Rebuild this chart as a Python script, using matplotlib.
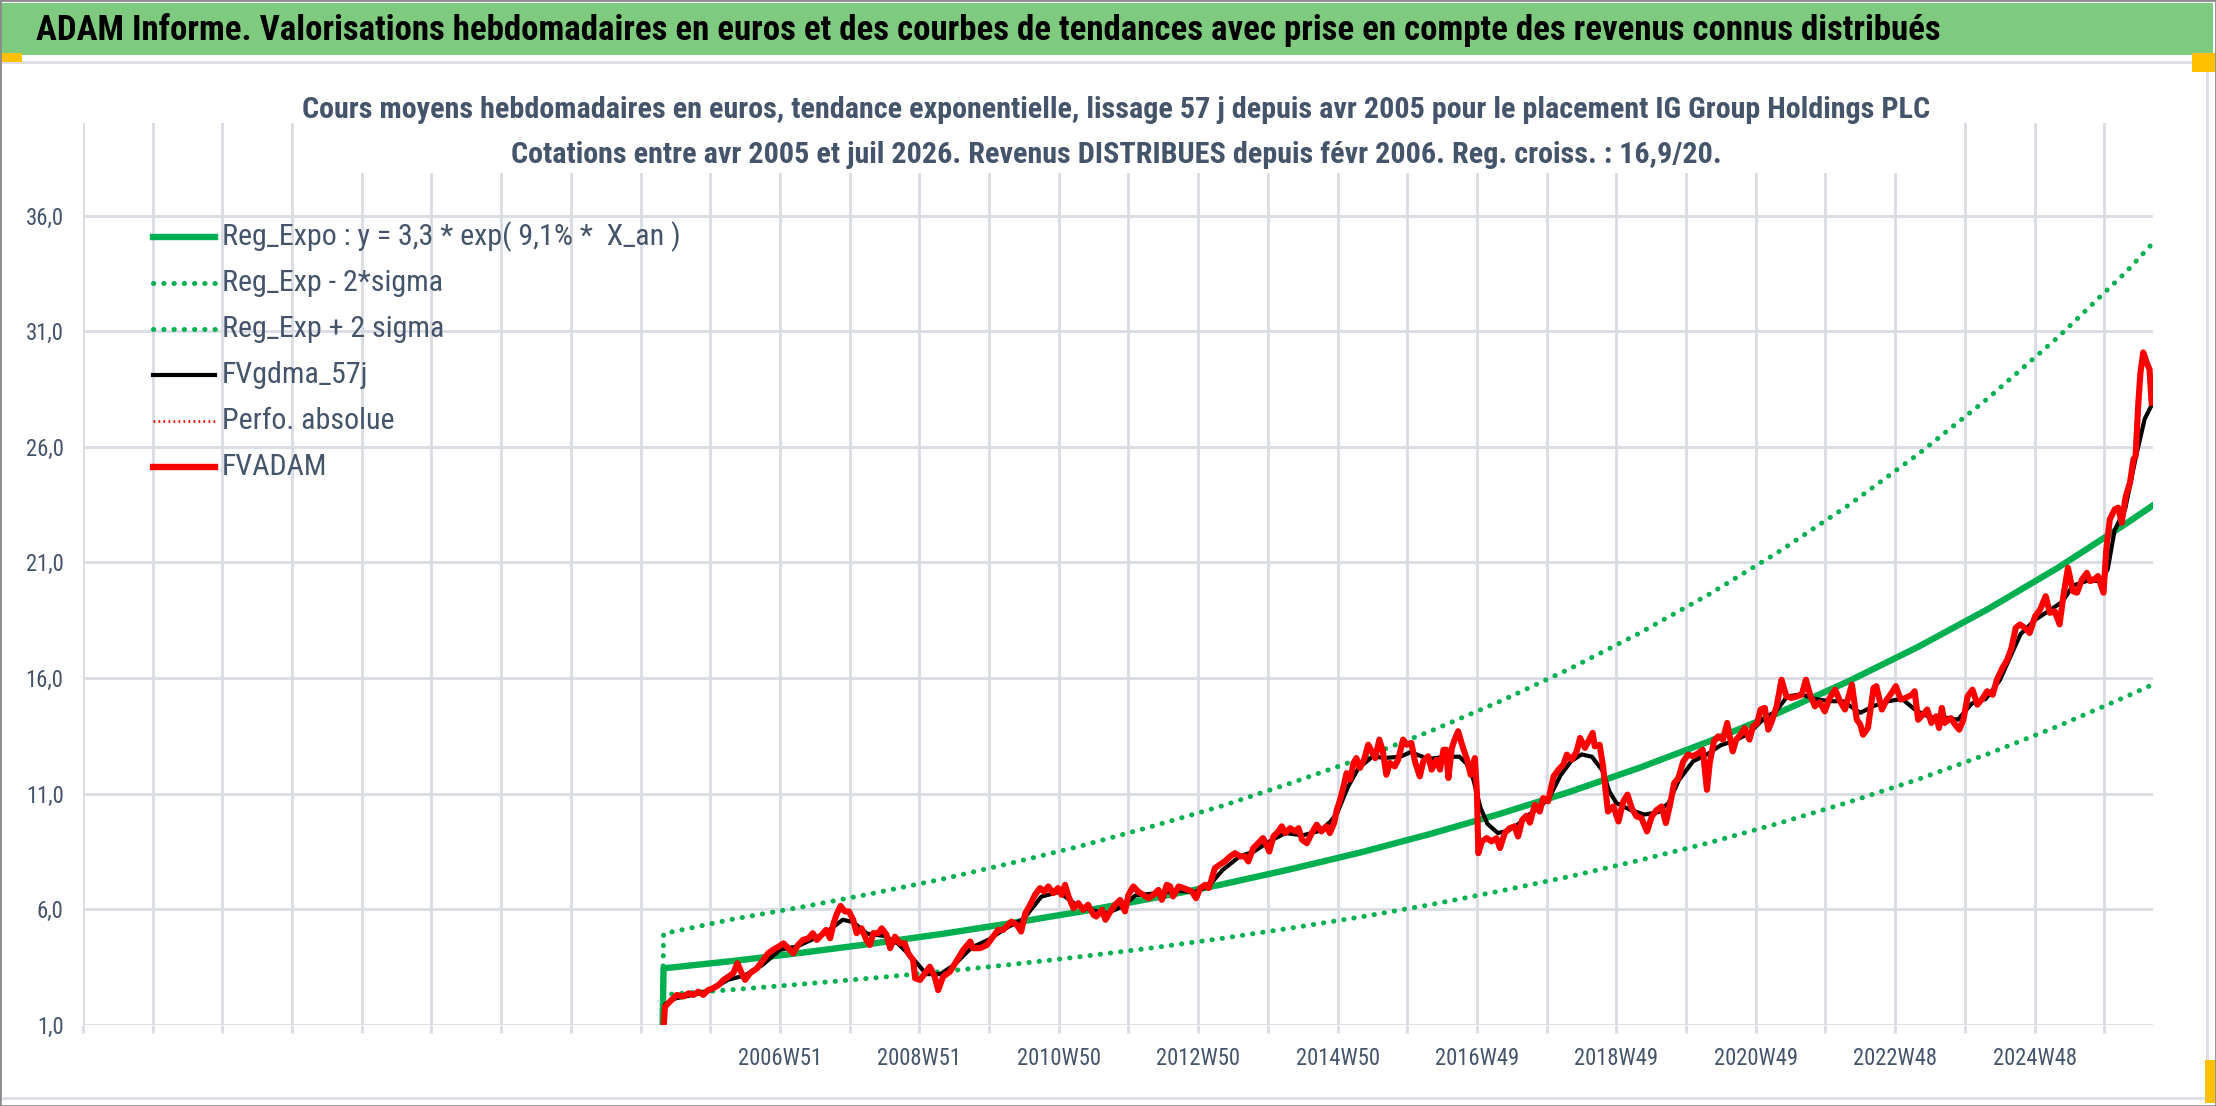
import matplotlib
matplotlib.use('Agg')
import matplotlib.pyplot as plt
from matplotlib import font_manager as fm
from matplotlib.patches import Rectangle
from matplotlib.lines import Line2D

# narrow font, closest thing to the stretched Calibri of the original
_names = {f.name for f in fm.fontManager.ttflist}
FONT = 'DejaVu Sans'
for cand in ['Roboto Condensed', 'Liberation Sans Narrow', 'Open Sans Condensed', 'Lato', 'Roboto']:
    if cand in _names:
        FONT = cand
        break
plt.rcParams['font.family'] = [FONT, 'DejaVu Sans']

TXT = '#44546A'
GRID = '#D9DCE3'
GREEN = '#00B050'

title = "ADAM Informe. Valorisations hebdomadaires en euros et des courbes de tendances avec prise en compte des revenus connus distribués"
subtitle1 = "Cours moyens hebdomadaires en euros, tendance exponentielle, lissage 57 j depuis avr 2005 pour le placement IG Group Holdings PLC"
subtitle2 = "Cotations entre avr 2005 et juil 2026. Revenus DISTRIBUES depuis févr 2006. Reg. croiss. : 16,9/20."
legend_labels = ['Reg_Expo : y = 3,3 * exp( 9,1% *  X_an )', 'Reg_Exp - 2*sigma',
                 'Reg_Exp + 2 sigma', 'FVgdma_57j', 'Perfo. absolue', 'FVADAM']

# x axis: one unit = one 52-week step; first gridline = 1997
x_labels = ['2006W51', '2008W51', '2010W50', '2012W50', '2014W50',
            '2016W49', '2018W49', '2020W49', '2022W48', '2024W48']
first_label_pos = 2007
y_ticks = [1, 6, 11, 16, 21, 26, 31, 36]

# regression and +/- 2 sigma bands
reg_x = [2005.31, 2005.33, 2006.33, 2007.33, 2008.33, 2009.33, 2010.33, 2011.33, 2012.33,
         2013.33, 2014.33, 2015.33, 2016.33, 2017.33, 2018.33, 2019.33, 2020.33,
         2021.33, 2022.33, 2023.33, 2024.33, 2025.33, 2026.33, 2026.68]
reg_y = [0.0, 3.45, 3.77, 4.13, 4.52, 4.94, 5.41, 5.91, 6.47, 7.07, 7.74, 8.46, 9.26,
         10.13, 11.08, 12.12, 13.26, 14.50, 15.86, 17.35, 18.98, 20.76, 22.71, 23.43]
up_y = [0.0, 4.95, 5.58, 6.11, 6.69, 7.31, 8.01, 8.75, 9.58, 10.46, 11.46, 12.52, 13.70,
        14.99, 16.40, 17.94, 19.62, 21.46, 23.47, 25.68, 28.09, 30.72, 33.61, 34.75]
lo_y = [0.0, 2.31, 2.53, 2.77, 3.03, 3.31, 3.62, 3.96, 4.33, 4.74, 5.19, 5.67, 6.20,
        6.79, 7.42, 8.12, 8.88, 9.72, 10.63, 11.62, 12.72, 13.91, 15.22, 15.70]

# FVADAM weekly valuation (sampled)
fv_x = [2005.31, 2005.35, 2005.42, 2005.52, 2005.61, 2005.69, 2005.76, 2005.83, 2005.90, 2005.97,
        2006.04, 2006.12, 2006.19, 2006.26, 2006.33, 2006.39, 2006.44, 2006.50, 2006.57, 2006.67,
        2006.76, 2006.83, 2006.90, 2006.98, 2007.05, 2007.12, 2007.19, 2007.26, 2007.33, 2007.41,
        2007.47, 2007.53, 2007.60, 2007.66, 2007.72, 2007.77, 2007.81, 2007.87, 2007.93, 2007.99,
        2008.05, 2008.10, 2008.17, 2008.24, 2008.29, 2008.34, 2008.41, 2008.46, 2008.53, 2008.58,
        2008.65, 2008.72, 2008.79, 2008.84, 2008.91, 2008.94, 2009.01, 2009.08, 2009.15, 2009.22,
        2009.27, 2009.34, 2009.44, 2009.53, 2009.63, 2009.73, 2009.77, 2009.87, 2009.97, 2010.04,
        2010.13, 2010.20, 2010.25, 2010.32, 2010.40, 2010.46, 2010.52, 2010.59, 2010.66, 2010.73,
        2010.79, 2010.85, 2010.92, 2010.99, 2011.04, 2011.09, 2011.14, 2011.21, 2011.28, 2011.35,
        2011.42, 2011.50, 2011.54, 2011.62, 2011.67, 2011.74, 2011.81, 2011.88, 2011.95, 2012.00,
        2012.07, 2012.14, 2012.21, 2012.29, 2012.36, 2012.43, 2012.48, 2012.55, 2012.60, 2012.64,
        2012.72, 2012.79, 2012.86, 2012.91, 2012.97, 2013.03, 2013.10, 2013.15, 2013.19, 2013.24,
        2013.31, 2013.38, 2013.46, 2013.53, 2013.60, 2013.67, 2013.72, 2013.79, 2013.86, 2013.93,
        2013.98, 2014.02, 2014.08, 2014.15, 2014.20, 2014.25, 2014.32, 2014.39, 2014.44, 2014.49,
        2014.56, 2014.63, 2014.70, 2014.77, 2014.84, 2014.89, 2014.95, 2014.99, 2015.03, 2015.08,
        2015.13, 2015.18, 2015.23, 2015.27, 2015.32, 2015.38, 2015.44, 2015.49, 2015.54, 2015.60,
        2015.65, 2015.70, 2015.75, 2015.82, 2015.87, 2015.94, 2015.99, 2016.06, 2016.11, 2016.18,
        2016.23, 2016.30, 2016.35, 2016.42, 2016.47, 2016.52, 2016.56, 2016.59, 2016.64, 2016.68,
        2016.73, 2016.80, 2016.86, 2016.91, 2016.97, 2017.00, 2017.02, 2017.07, 2017.14, 2017.21,
        2017.28, 2017.33, 2017.40, 2017.47, 2017.54, 2017.59, 2017.65, 2017.71, 2017.76, 2017.83,
        2017.90, 2017.95, 2018.02, 2018.10, 2018.17, 2018.24, 2018.29, 2018.36, 2018.43, 2018.48,
        2018.55, 2018.60, 2018.66, 2018.69, 2018.76, 2018.81, 2018.85, 2018.88, 2018.96, 2019.03,
        2019.10, 2019.16, 2019.22, 2019.29, 2019.36, 2019.44, 2019.51, 2019.58, 2019.65, 2019.71,
        2019.77, 2019.83, 2019.89, 2019.96, 2020.03, 2020.10, 2020.18, 2020.24, 2020.30, 2020.34,
        2020.40, 2020.46, 2020.53, 2020.59, 2020.67, 2020.72, 2020.78, 2020.84, 2020.91, 2020.96,
        2021.02, 2021.07, 2021.13, 2021.18, 2021.23, 2021.30, 2021.37, 2021.44, 2021.51, 2021.59,
        2021.66, 2021.72, 2021.78, 2021.85, 2021.92, 2021.99, 2022.06, 2022.14, 2022.21, 2022.28,
        2022.38, 2022.45, 2022.50, 2022.54, 2022.61, 2022.69, 2022.73, 2022.81, 2022.88, 2022.95,
        2023.01, 2023.08, 2023.15, 2023.24, 2023.28, 2023.33, 2023.40, 2023.46, 2023.52, 2023.59,
        2023.63, 2023.67, 2023.71, 2023.80, 2023.86, 2023.92, 2023.98, 2024.04, 2024.11, 2024.18,
        2024.26, 2024.32, 2024.40, 2024.46, 2024.54, 2024.61, 2024.67, 2024.73, 2024.79, 2024.86,
        2024.93, 2025.01, 2025.08, 2025.16, 2025.22, 2025.29, 2025.36, 2025.41, 2025.48, 2025.55,
        2025.61, 2025.68, 2025.75, 2025.80, 2025.85, 2025.91, 2025.99, 2026.03, 2026.08, 2026.15,
        2026.20, 2026.25, 2026.31, 2026.37, 2026.42, 2026.45, 2026.49, 2026.52, 2026.56, 2026.61,
        2026.65, 2026.68]
fv_y = [0.0, 1.79, 2.01, 2.30, 2.23, 2.37, 2.30, 2.44, 2.30, 2.51,
        2.59, 2.73, 2.95, 3.09, 3.24, 3.67, 3.31, 2.95, 3.24, 3.45,
        3.81, 4.10, 4.25, 4.39, 4.53, 4.32, 4.10, 4.46, 4.68, 4.75,
        4.97, 4.68, 4.90, 5.11, 4.75, 5.40, 5.76, 6.15, 5.91, 5.91,
        5.55, 4.97, 5.18, 4.68, 4.46, 4.97, 4.97, 5.18, 4.90, 4.32,
        4.82, 4.53, 4.53, 4.10, 3.81, 3.02, 2.95, 3.24, 3.52, 3.09,
        2.51, 3.09, 3.31, 3.75, 4.25, 4.61, 4.32, 4.32, 4.46, 4.75,
        5.11, 5.11, 5.26, 5.47, 5.33, 5.04, 5.83, 6.20, 6.63, 6.92,
        6.77, 6.99, 6.70, 6.92, 6.63, 7.06, 6.56, 6.05, 6.27, 5.98,
        6.20, 5.76, 5.69, 5.98, 5.55, 5.91, 6.20, 6.41, 5.91, 6.63,
        6.99, 6.77, 6.63, 6.48, 6.63, 6.84, 6.41, 7.06, 6.99, 6.56,
        6.99, 6.92, 6.84, 6.77, 6.48, 6.92, 7.06, 6.92, 7.28, 7.78,
        7.93, 8.07, 8.29, 8.43, 8.29, 8.29, 8.07, 8.65, 8.86, 9.08,
        8.79, 8.50, 9.15, 9.37, 9.59, 9.30, 9.51, 9.37, 9.51, 9.01,
        8.86, 9.30, 9.66, 9.37, 9.59, 9.30, 9.73, 10.31, 10.67, 11.24,
        11.89, 11.61, 12.33, 12.54, 12.11, 12.47, 13.12, 12.83, 12.54, 13.34,
        12.83, 11.82, 12.33, 12.18, 12.47, 13.34, 13.12, 13.19, 12.40, 11.75,
        12.40, 12.62, 12.04, 12.47, 12.04, 12.90, 12.90, 11.68, 12.98, 13.34,
        13.70, 12.98, 12.47, 11.82, 12.54, 11.03, 8.43, 8.94, 9.08, 8.94,
        9.08, 8.65, 9.30, 9.51, 9.59, 9.15, 9.87, 10.05, 9.75, 10.52,
        10.23, 10.81, 10.67, 11.75, 12.04, 12.26, 12.69, 12.47, 12.83, 13.41,
        12.98, 13.27, 13.63, 13.05, 13.12, 12.18, 11.03, 10.23, 10.45, 9.80,
        10.67, 10.96, 10.38, 10.02, 9.95, 9.37, 10.02, 10.30, 10.45, 9.73,
        10.52, 11.46, 11.68, 12.40, 12.69, 12.62, 12.76, 12.90, 11.17, 12.33,
        13.27, 13.48, 13.34, 14.06, 12.83, 13.34, 13.55, 13.84, 13.34, 13.91,
        14.06, 14.64, 14.71, 13.77, 14.13, 14.78, 15.93, 15.21, 15.14, 15.21,
        15.28, 15.93, 15.28, 14.78, 14.95, 14.56, 15.14, 15.50, 15.00, 14.64,
        15.72, 14.20, 13.99, 13.55, 13.84, 15.57, 15.65, 14.64, 15.07, 15.36,
        15.65, 15.07, 15.14, 15.28, 15.43, 14.20, 14.42, 14.64, 14.06, 14.35,
        13.84, 14.71, 14.06, 14.27, 13.99, 13.77, 14.20, 15.21, 15.50, 14.85,
        15.14, 15.43, 15.28, 15.93, 16.44, 16.80, 17.31, 18.17, 18.32, 18.17,
        17.95, 18.68, 18.96, 19.54, 18.82, 18.89, 18.32, 19.47, 20.77, 19.76,
        19.69, 20.26, 20.55, 20.19, 20.26, 20.41, 19.69, 21.56, 22.86, 23.29,
        23.37, 22.72, 23.87, 24.45, 25.46, 25.60, 27.91, 29.21, 30.08, 29.64,
        29.35, 27.91]

# FVgdma_57j smoothed line (sampled)
ma_x = [2005.31, 2005.35, 2005.50, 2005.75, 2006.00, 2006.25, 2006.50, 2006.75, 2007.00, 2007.25,
        2007.50, 2007.75, 2007.90, 2008.05, 2008.25, 2008.50, 2008.70, 2008.90, 2009.10, 2009.30,
        2009.50, 2009.75, 2010.00, 2010.25, 2010.50, 2010.75, 2011.00, 2011.25, 2011.50, 2011.70,
        2011.90, 2012.10, 2012.40, 2012.70, 2012.95, 2013.15, 2013.35, 2013.60, 2013.80, 2014.00,
        2014.25, 2014.50, 2014.75, 2014.90, 2015.00, 2015.15, 2015.30, 2015.50, 2015.70, 2015.90,
        2016.05, 2016.30, 2016.55, 2016.75, 2016.85, 2016.95, 2017.05, 2017.15, 2017.30, 2017.45,
        2017.60, 2017.75, 2017.90, 2018.05, 2018.20, 2018.35, 2018.50, 2018.65, 2018.80, 2018.90,
        2019.00, 2019.20, 2019.40, 2019.60, 2019.75, 2019.90, 2020.10, 2020.30, 2020.50, 2020.70,
        2020.90, 2021.10, 2021.30, 2021.45, 2021.65, 2021.85, 2022.05, 2022.25, 2022.50, 2022.70,
        2022.90, 2023.10, 2023.30, 2023.50, 2023.70, 2023.90, 2024.10, 2024.30, 2024.50, 2024.65,
        2024.80, 2025.00, 2025.20, 2025.40, 2025.55, 2025.75, 2025.95, 2026.05, 2026.15, 2026.30,
        2026.45, 2026.58, 2026.68]
ma_y = [0.0, 1.90, 2.15, 2.30, 2.50, 2.95, 3.15, 3.60, 4.25, 4.40,
        4.75, 5.20, 5.55, 5.45, 4.95, 4.85, 4.50, 3.90, 3.20, 3.20,
        3.60, 4.35, 4.70, 5.20, 5.60, 6.55, 6.75, 6.20, 5.95, 5.85,
        6.10, 6.60, 6.70, 6.80, 6.75, 7.00, 7.70, 8.30, 8.50, 8.90,
        9.30, 9.20, 9.40, 9.80, 10.20, 11.30, 12.10, 12.60, 12.55, 12.60,
        12.80, 12.50, 12.60, 12.60, 12.30, 11.60, 10.40, 9.70, 9.30, 9.40,
        9.70, 10.10, 10.40, 10.90, 11.80, 12.40, 12.70, 12.60, 12.00, 11.10,
        10.60, 10.30, 10.10, 10.20, 10.60, 11.60, 12.40, 12.70, 13.10, 13.30,
        13.60, 14.20, 14.60, 15.20, 15.30, 15.10, 15.00, 15.00, 14.50, 14.80,
        15.00, 15.10, 14.60, 14.30, 14.30, 14.20, 14.90, 15.10, 15.90, 16.90,
        17.90, 18.50, 18.90, 19.30, 20.00, 20.20, 20.20, 20.70, 22.40, 23.30,
        25.50, 27.20, 27.80]

W, H = 2216, 1106
fig = plt.figure(figsize=(W / 100, H / 100), dpi=100)
fig.patch.set_facecolor('white')
renderer = fig.canvas.get_renderer()


def fx(px):
    return px / W


def fy(py):
    return 1 - py / H


def fit_size(s, target_px, weight='normal', base=20.0):
    # font size that gives the text the reference's width
    t = fig.text(0, 0, s, fontsize=base, fontweight=weight)
    w = t.get_window_extent(renderer).width
    t.remove()
    return base * target_px / w


ax = fig.add_axes([fx(83), fy(1025), fx(2153) - fx(83), fy(123) - fy(1025)])
ax.set_facecolor('white')

l_reg, = ax.plot(reg_x, reg_y, color=GREEN, lw=4.6, solid_joinstyle='round', zorder=3)
dots = dict(color=GREEN, lw=3.6, ls=(0, (0.05, 2.0)), dash_capstyle='round', zorder=3)
l_lo, = ax.plot(reg_x, lo_y, **dots)
l_up, = ax.plot(reg_x, up_y, **dots)
l_ma, = ax.plot(ma_x, ma_y, color='black', lw=3.0, solid_joinstyle='round', zorder=4)
l_fv, = ax.plot(fv_x, fv_y, color='#FF0000', lw=4.4, solid_joinstyle='round', zorder=5)

ax.set_ylim(1, 40)
ax.set_xlim(1997, 2026.70)
ax.set_yticks(y_ticks)
ax.set_yticklabels([f'{v:.1f}'.replace('.', ',') for v in y_ticks])

grid_pos = list(range(1997, 2027))
lab_pos = [first_label_pos + 2 * i for i in range(len(x_labels))]
lab_map = dict(zip(lab_pos, x_labels))
ax.set_xticks(grid_pos)
ax.set_xticklabels([lab_map.get(p, '') for p in grid_pos])

ax.grid(True, color=GRID, lw=2.0, zorder=0)
ax.set_axisbelow(True)
for s in ax.spines.values():
    s.set_visible(False)
ax.tick_params(axis='x', length=6, width=2.0, color=GRID, labelsize=fit_size(x_labels[0], 84),
               labelcolor=TXT, pad=10)
ax.tick_params(axis='y', length=0, labelsize=fit_size('36,0', 38), labelcolor=TXT, pad=14)

# legend drawn entry by entry at the reference spacing
leg_fs = fit_size(legend_labels[0], 459)
leg_styles = [dict(color=GREEN, lw=4.6),
              dict(color=GREEN, lw=3.6, ls=(0, (0.05, 2.0)), dash_capstyle='round'),
              dict(color=GREEN, lw=3.6, ls=(0, (0.05, 2.0)), dash_capstyle='round'),
              dict(color='black', lw=3.0),
              dict(color='red', lw=2.0, ls=(0, (0.6, 1.2))),
              dict(color='#FF0000', lw=4.6)]
for i, (lab, st) in enumerate(zip(legend_labels, leg_styles)):
    yy = fy(237 + 46 * i)
    fig.add_artist(Line2D([fx(153), fx(215)], [yy, yy], transform=fig.transFigure, zorder=6, **st))
    fig.text(fx(222), yy, lab, fontsize=leg_fs, color=TXT, ha='left', va='center', zorder=6)

# title band and chart frame
fig.patches.append(Rectangle((0, fy(55)), fx(2213), fy(3) - fy(55), transform=fig.transFigure,
                             facecolor='#7ECA7E', edgecolor='none', zorder=1))
fig.patches.append(Rectangle((0, fy(64)), fx(2208), fy(61) - fy(64), transform=fig.transFigure,
                             facecolor='#DDE0E6', edgecolor='none', zorder=1))
fig.patches.append(Rectangle((0, fy(62)), fx(22), fy(53) - fy(62), transform=fig.transFigure,
                             facecolor='#FFC000', edgecolor='none', zorder=2))
fig.patches.append(Rectangle((fx(2192), fy(72)), fx(24), fy(53) - fy(72), transform=fig.transFigure,
                             facecolor='#FFC000', edgecolor='none', zorder=2))
fig.patches.append(Rectangle((fx(2205), fy(1103)), fx(11), fy(1060) - fy(1103), transform=fig.transFigure,
                             facecolor='#FFC000', edgecolor='none', zorder=2))
fig.patches.append(Rectangle((fx(2206), fy(1100)), fx(3), fy(64) - fy(1100), transform=fig.transFigure,
                             facecolor='#DDE0E6', edgecolor='none', zorder=1))
fig.patches.append(Rectangle((0, fy(1100)), fx(2208), fy(1097) - fy(1100), transform=fig.transFigure,
                             facecolor='#DDE0E6', edgecolor='none', zorder=1))
fig.patches.append(Rectangle((0, 0), 1, 1, transform=fig.transFigure, facecolor='none',
                             edgecolor='#8C8C8C', lw=2, zorder=2))
# chart title box hides the top of the gridlines
fig.patches.append(Rectangle((fx(302), fy(173)), fx(1930) - fx(302), fy(75) - fy(173),
                             transform=fig.transFigure, facecolor='white', edgecolor='none', zorder=2))

fig.text(fx(36), fy(40), title, fontsize=fit_size(title, 1903, 'bold'), fontweight='bold',
         color='black', ha='left', va='baseline', zorder=3)
sub_fs = fit_size(subtitle1, 1624, 'bold')
fig.text(fx(1116), fy(118), subtitle1, fontsize=sub_fs, fontweight='bold', color=TXT,
         ha='center', va='baseline', zorder=3)
fig.text(fx(1116), fy(163), subtitle2, fontsize=sub_fs, fontweight='bold', color=TXT,
         ha='center', va='baseline', zorder=3)

fig.savefig('out.png', dpi=100, facecolor='white')
